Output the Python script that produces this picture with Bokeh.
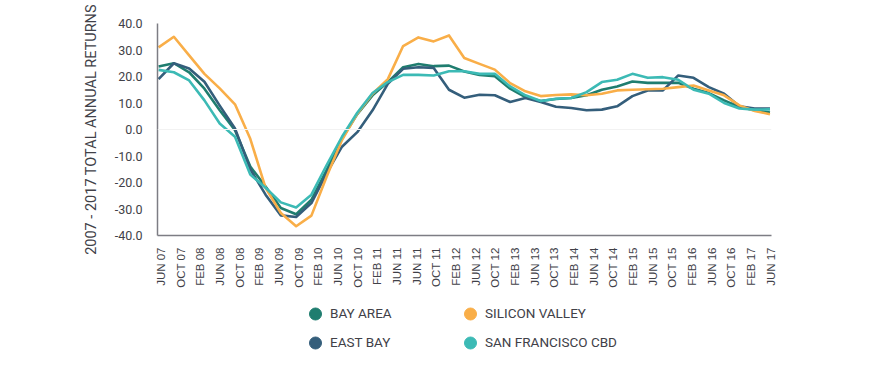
import math
from bokeh.plotting import figure
from bokeh.layouts import column
from bokeh.models import (Range1d, FixedTicker, NumeralTickFormatter, CustomJSTickFormatter,
                          Span, Legend, LegendItem)
from bokeh.embed import file_html
from bokeh.resources import INLINE

# ---------------- data (quarterly, Jun 2007 - Jun 2017) ----------------
bay_area = [23.75, 25.0, 21.6, 15.4, 7.25, -0.25, -14.0, -21.5, -29.6, -32.0, -26.5, -15.25, -3.4,
            5.8, 12.9, 17.9, 23.5, 24.75, 23.9, 24.1, 21.9, 20.6, 20.1, 15.4, 12.25, 10.75, 11.5,
            11.9, 12.9, 15.0, 16.25, 18.1, 17.6, 17.6, 17.6, 15.4, 13.75, 11.0, 8.5, 7.25, 6.4]
east_bay = [19.0, 25.0, 23.0, 18.0, 9.0, 0.4, -15.0, -24.6, -32.4, -33.0, -27.75, -16.5, -6.5,
            -1.0, 7.25, 17.25, 22.9, 23.5, 23.25, 15.0, 12.0, 13.1, 12.9, 10.4, 11.9, 10.4, 8.6,
            8.1, 7.25, 7.5, 8.75, 12.6, 14.75, 14.75, 20.4, 19.5, 16.0, 13.5, 8.75, 7.9, 7.9]
silicon_valley = [31.0, 35.0, 28.0, 21.0, 15.5, 9.5, -3.5, -22.0, -31.5, -36.5, -32.5, -17.75, -4.0,
                  6.0, 13.5, 19.0, 31.5, 34.75, 33.25, 35.5, 27.0, 24.75, 22.6, 17.5, 14.4, 12.6, 13.0,
                  13.25, 12.9, 13.5, 14.75, 15.0, 15.2, 15.4, 16.0, 16.6, 14.75, 12.9, 9.1, 7.0, 5.75]
sf_cbd = [22.5, 21.6, 18.5, 11.0, 2.25, -2.75, -17.0, -22.0, -27.5, -29.4, -24.6, -13.4, -2.75,
          6.3, 13.75, 17.9, 20.6, 20.6, 20.4, 22.0, 22.0, 21.0, 21.0, 16.25, 12.9, 10.75, 11.6,
          11.9, 14.1, 17.9, 18.75, 21.0, 19.5, 19.75, 18.75, 15.0, 13.5, 10.0, 7.9, 7.5, 7.6]

tick_labels = ["JUN 07", "OCT 07", "FEB 08", "JUN 08", "OCT 08", "FEB 09", "JUN 09", "OCT 09",
               "FEB 10", "JUN 10", "OCT 10", "FEB 11", "JUN 11", "JUN 11", "OCT 11", "FEB 12",
               "JUN 12", "OCT 12", "FEB 13", "JUN 13", "OCT 13", "FEB 14", "JUN 14", "OCT 14",
               "FEB 15", "JUN 15", "OCT 15", "FEB 16", "JUN 16", "OCT 16", "FEB 17", "JUN 17"]
y_ticks = [-40, -30, -20, -10, 0, 10, 20, 30, 40]

series_names = ["BAY AREA", "SILICON VALLEY", "EAST BAY", "SAN FRANCISCO CBD"]
colors = {"BAY AREA": "#1f7d6f", "SILICON VALLEY": "#f9ae48",
          "EAST BAY": "#345e7b", "SAN FRANCISCO CBD": "#3cbab5"}

x = list(range(len(bay_area)))

TEXT = "#414148"
AXIS = "#7d7d84"

p = figure(width=870, height=290, output_backend="svg", toolbar_location=None,
           x_range=Range1d(-0.07, 40.1), y_range=Range1d(-40, 40),
           min_border_left=157, min_border_right=99, min_border_top=23, min_border_bottom=53)
p.outline_line_color = None
p.grid.visible = False
p.background_fill_color = "white"
p.border_fill_color = "white"

p.add_layout(Span(location=0, dimension="width", line_color="#f2f2f2", line_width=1))

data_by_name = {"BAY AREA": bay_area, "EAST BAY": east_bay,
                "SILICON VALLEY": silicon_valley, "SAN FRANCISCO CBD": sf_cbd}
for name in ["BAY AREA", "EAST BAY", "SILICON VALLEY", "SAN FRANCISCO CBD"]:
    p.line(x, data_by_name[name], line_color=colors[name], line_width=2.6, line_join="round")

# y axis
yax = p.yaxis[0]
yax.ticker = FixedTicker(ticks=y_ticks)
yax.formatter = NumeralTickFormatter(format="0.0")
yax.major_tick_line_color = None
yax.minor_tick_line_color = None
yax.axis_line_color = AXIS
yax.axis_line_width = 1.5
yax.major_label_text_font = "Roboto"
yax.major_label_text_font_size = "12.5px"
yax.major_label_text_color = TEXT
yax.major_label_standoff = 9
yax.axis_label = "2007 - 2017 TOTAL ANNUAL RETURNS"
yax.axis_label_text_font = "Roboto"
yax.axis_label_text_font_size = "14.5px"
yax.axis_label_text_font_style = "normal"
yax.axis_label_text_color = TEXT
yax.axis_label_standoff = 12

# x axis
n_lab = len(tick_labels)
x0, x1 = 0.15, 40.05
step = (x1 - x0) / (n_lab - 1)
xticks = [x0 + k * step for k in range(n_lab)]
xax = p.xaxis[0]
xax.ticker = FixedTicker(ticks=xticks)
xax.formatter = CustomJSTickFormatter(args=dict(labels=tick_labels, x0=x0, step=step),
                                      code="return labels[Math.round((tick - x0) / step)];")
xax.major_tick_line_color = None
xax.minor_tick_line_color = None
xax.axis_line_color = AXIS
xax.axis_line_width = 1.5
xax.major_label_orientation = math.pi / 2
xax.major_label_text_font = "Liberation Sans"
xax.major_label_text_font_size = "11.5px"
xax.major_label_text_color = TEXT
xax.major_label_standoff = 6

# ---------------- legend (separate strip below the chart; frame aligned with chart) ----------------
lg_fig = figure(width=870, height=86, output_backend="svg", toolbar_location=None,
                x_range=Range1d(0, 1), y_range=Range1d(0, 1),
                x_axis_location=None, y_axis_location=None,
                min_border_left=157, min_border_right=99, min_border_top=0, min_border_bottom=0)
lg_fig.outline_line_color = None
lg_fig.grid.visible = False

positions = {"BAY AREA": (143, 46.5), "SILICON VALLEY": (298, 46.5),
             "EAST BAY": (143, 17.5), "SAN FRANCISCO CBD": (298, 17.5)}
for name in series_names:
    r = lg_fig.scatter(x=[-10], y=[-10], marker="circle", size=13, fill_color=colors[name],
                       line_color=colors[name], line_width=1)
    lg = Legend(items=[LegendItem(label=name, renderers=[r], index=0)], location=positions[name],
                orientation="horizontal", padding=0, margin=0, spacing=0,
                glyph_width=30, glyph_height=33, label_standoff=0,
                label_text_font="Roboto", label_text_font_size="13.5px",
                label_text_color=TEXT, border_line_color=None,
                background_fill_alpha=0)
    lg_fig.add_layout(lg, "center")

layout = column(p, lg_fig, spacing=0)
open("out.html", "w").write(file_html(layout, INLINE))
